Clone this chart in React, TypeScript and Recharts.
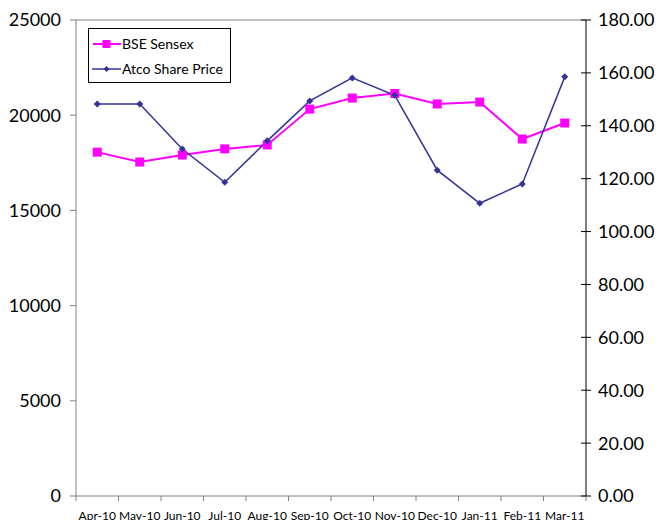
import { LineChart, Line, XAxis, YAxis, ReferenceLine } from "recharts";

const months = ["Apr-10", "May-10", "Jun-10", "Jul-10", "Aug-10", "Sep-10", "Oct-10", "Nov-10", "Dec-10", "Jan-11", "Feb-11", "Mar-11"];
const sensex = [18060, 17540, 17910, 18230, 18440, 20320, 20900, 21140, 20590, 20690, 18750, 19590];
const atco = [148.2, 148.2, 131.2, 118.6, 134.3, 149.4, 158.1, 151.5, 123.2, 110.7, 118.0, 158.5];
const leftTicks = [0, 5000, 10000, 15000, 20000, 25000];
const rightTicks = [0, 20, 40, 60, 80, 100, 120, 140, 160, 180];

const data = months.map((m, i) => ({ month: m, sensex: sensex[i], atco: atco[i] }));

const FONT = "Lato, 'Open Sans', sans-serif";
const PINK = "#FF00FF";
const NAVY = "#333399";
const BAND = 510 / months.length;

const XTick = (props: any) => {
  const { x, y, payload, index } = props;
  const axisY = y - 15;
  const half = BAND / 2;
  return (
    <g>
      <line x1={x - half} x2={x - half} y1={axisY} y2={axisY + 5} stroke="#808080" />
      {index === months.length - 1 && (
        <line x1={x + half} x2={x + half} y1={axisY} y2={axisY + 5} stroke="#808080" />
      )}
      <text x={x} y={y} dy="0.71em" textAnchor="middle" fontSize={12} fontFamily={FONT} fill="#000">
        {payload.value}
      </text>
    </g>
  );
};

const RightTick = (props: any) => {
  const { x, y, payload } = props;
  return (
    <g>
      <line x1={x - 17} x2={x - 7} y1={y} y2={y} stroke="#000" />
      <text x={x} y={y} dy="0.36em" textAnchor="start" fontSize={18} fontFamily={FONT} fill="#000">
        {Number(payload.value).toFixed(2)}
      </text>
    </g>
  );
};

const SquareDot = (props: any) => {
  const { cx, cy } = props;
  if (cx == null || cy == null) return null;
  return <rect x={cx - 4.5} y={cy - 4.5} width={9} height={9} fill={PINK} />;
};

const DiamondDot = (props: any) => {
  const { cx, cy } = props;
  if (cx == null || cy == null) return null;
  return <polygon points={`${cx},${cy - 3.5} ${cx + 3.5},${cy} ${cx},${cy + 3.5} ${cx - 3.5},${cy}`} fill={NAVY} />;
};

const LegendBox = () => (
  <div
    style={{
      position: "absolute",
      left: 88,
      top: 28,
      width: 141,
      height: 53,
      border: "1px solid #000",
      background: "#fff",
      fontFamily: FONT,
      fontSize: 14,
      color: "#000",
    }}
  >
    <div style={{ display: "flex", alignItems: "center", height: 15, marginTop: 7 }}>
      <svg width={33} height={14}>
        <line x1={4} x2={32} y1={7} y2={7} stroke={PINK} strokeWidth={2} />
        <rect x={13.5} y={3} width={8} height={8} fill={PINK} />
      </svg>
      <span>BSE Sensex</span>
    </div>
    <div style={{ display: "flex", alignItems: "center", height: 15, marginTop: 10 }}>
      <svg width={33} height={14}>
        <line x1={3} x2={32} y1={7} y2={7} stroke={NAVY} strokeWidth={1.5} />
        <polygon points="17.5,4 20.5,7 17.5,10 14.5,7" fill={NAVY} />
      </svg>
      <span>Atco Share Price</span>
    </div>
  </div>
);

export default function App() {
  return (
    <div style={{ position: "absolute", left: 0, top: 0, width: 661, height: 520, background: "#fff" }}>
      <LineChart width={661} height={520} data={data} margin={{ top: 20, right: 0, left: 0, bottom: 0 }}>
        <XAxis
          dataKey="month"
          height={24}
          interval={0}
          padding={{ left: BAND / 2, right: BAND / 2 }}
          tickLine={false}
          tickSize={5}
          tickMargin={10}
          axisLine={{ stroke: "#808080" }}
          tick={<XTick />}
        />
        <YAxis
          yAxisId="left"
          orientation="left"
          width={76}
          domain={[0, 25000]}
          ticks={leftTicks}
          tickSize={6}
          tickMargin={9}
          axisLine={{ stroke: "#808080" }}
          tickLine={{ stroke: "#808080" }}
          tick={{ fill: "#000", fontSize: 18, fontFamily: FONT }}
        />
        <YAxis
          yAxisId="right"
          orientation="right"
          width={75}
          domain={[0, 180]}
          ticks={rightTicks}
          tickSize={5}
          tickMargin={7}
          axisLine={{ stroke: "#000" }}
          tickLine={false}
          tick={<RightTick />}
        />
        <ReferenceLine yAxisId="left" y={25000} stroke="#808080" />
        <Line
          yAxisId="left"
          type="linear"
          dataKey="sensex"
          name="BSE Sensex"
          stroke={PINK}
          strokeWidth={2}
          dot={<SquareDot />}
          activeDot={false}
          isAnimationActive={false}
        />
        <Line
          yAxisId="right"
          type="linear"
          dataKey="atco"
          name="Atco Share Price"
          stroke={NAVY}
          strokeWidth={1.5}
          dot={<DiamondDot />}
          activeDot={false}
          isAnimationActive={false}
        />
      </LineChart>
      <LegendBox />
    </div>
  );
}
